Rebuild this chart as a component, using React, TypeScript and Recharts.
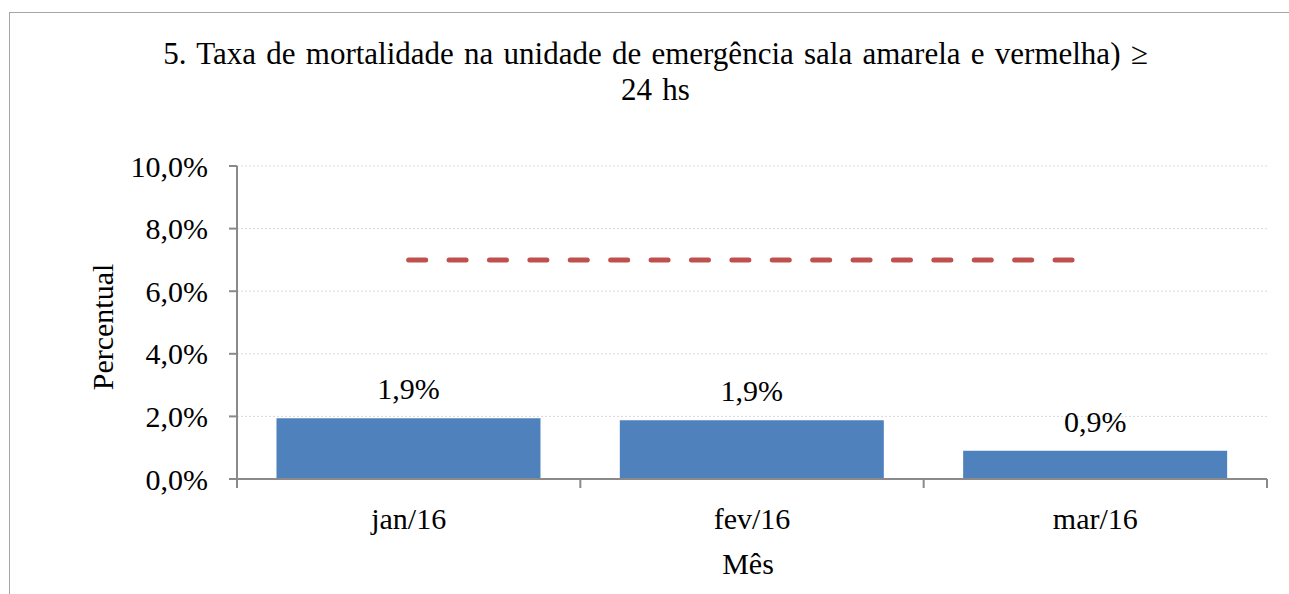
import { ComposedChart, Bar, Line, XAxis, YAxis, CartesianGrid, LabelList } from 'recharts';

const months = ['jan/16', 'fev/16', 'mar/16'];
const taxa = [1.94, 1.88, 0.9];
const meta = [7, 7, 7];
const yTicks = [0, 2, 4, 6, 8, 10];

const data = months.map((m, i) => ({ mes: m, taxa: taxa[i], meta: meta[i] }));

const FONT = '"Liberation Serif", "Times New Roman", serif';
const AXIS_COLOR = '#8a8a8a';

const pct = (v: number) => v.toFixed(1).replace('.', ',') + '%';

// category ticks: label at center, tick marks at the band edges
const XTick = (props: any) => {
  const { x, y, payload, index } = props;
  const half = payload.offset || 1030 / months.length / 2;
  return (
    <g>
      {index === 0 && (
        <line x1={x - half} x2={x - half} y1={y - 8} y2={y + 1} stroke={AXIS_COLOR} strokeWidth={2} />
      )}
      <line x1={x + half} x2={x + half} y1={y - 8} y2={y + 1} stroke={AXIS_COLOR} strokeWidth={2} />
      <text x={x} y={y + 42} textAnchor="middle" fontSize={30} fontFamily={FONT} fill="#000">
        {payload.value}
      </text>
    </g>
  );
};

export default function App() {
  return (
    <div style={{ position: 'absolute', left: 0, top: 0, width: 1289, height: 594, background: '#fff', fontFamily: FONT }}>
      <div
        style={{
          position: 'absolute',
          left: 9,
          top: 12,
          width: 1290,
          height: 600,
          borderTop: '1px solid #a6a6a6',
          borderLeft: '1px solid #a6a6a6',
        }}
      />
      <div
        style={{
          position: 'absolute',
          left: 105,
          width: 1101,
          top: 36,
          textAlign: 'center',
          fontSize: 31,
          lineHeight: '36px',
          wordSpacing: 2.5,
          color: '#000',
        }}
      >
        5. Taxa de mortalidade na unidade de emergência sala amarela e vermelha) ≥
        <br />
        24 hs
      </div>
      <div
        style={{
          position: 'absolute',
          left: 102.5,
          top: 326.5,
          transform: 'translate(-50%, -50%) rotate(-90deg)',
          whiteSpace: 'nowrap',
          fontSize: 30,
          lineHeight: '32px',
        }}
      >
        Percentual
      </div>
      <div
        style={{
          position: 'absolute',
          left: 748,
          top: 564,
          transform: 'translate(-50%, -50%)',
          whiteSpace: 'nowrap',
          fontSize: 30,
          lineHeight: '32px',
        }}
      >
        Mês
      </div>
      <div style={{ position: 'absolute', left: 0, top: 0 }}>
        <ComposedChart
          width={1289}
          height={594}
          data={data}
          margin={{ top: 166, right: 22, left: 100, bottom: 55 }}
          barCategoryGap="11.5%"
        >
          <CartesianGrid vertical={false} stroke="#d9d9d9" strokeDasharray="2 2" />
          <XAxis
            dataKey="mes"
            height={60}
            axisLine={{ stroke: AXIS_COLOR, strokeWidth: 2 }}
            tickLine={false}
            tickSize={8}
            tickMargin={0}
            tick={<XTick />}
            interval={0}
          />
          <YAxis
            width={137}
            domain={[0, 10]}
            ticks={yTicks}
            interval={0}
            tickFormatter={pct}
            axisLine={{ stroke: AXIS_COLOR, strokeWidth: 2 }}
            tickLine={{ stroke: AXIS_COLOR, strokeWidth: 2 }}
            tickSize={8}
            tickMargin={21}
            tick={{ fontSize: 30, fontFamily: FONT, fill: '#000' }}
          />
          <Bar dataKey="taxa" fill="#4f81bd" isAnimationActive={false}>
            <LabelList
              dataKey="taxa"
              position="top"
              offset={19}
              formatter={(v: any) => pct(Number(v))}
              style={{ fontSize: 30, fontFamily: FONT, fill: '#000' }}
            />
          </Bar>
          <Line
            dataKey="meta"
            stroke="#c0504d"
            strokeWidth={5}
            strokeDasharray="17 23.4"
            strokeLinecap="round"
            dot={false}
            activeDot={false}
            isAnimationActive={false}
          />
        </ComposedChart>
      </div>
    </div>
  );
}
